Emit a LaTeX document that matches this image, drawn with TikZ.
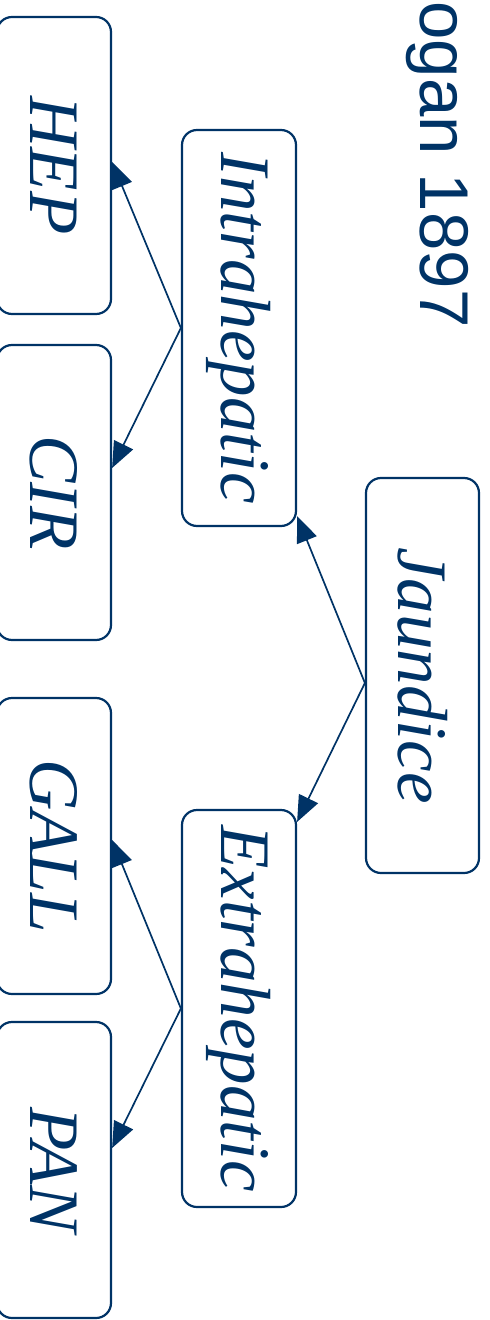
\documentclass[tikz,border=0pt]{standalone}
\usepackage{fontspec}
\setmainfont{Liberation Serif}
\newfontfamily\titlefont{Liberation Sans}
\usetikzlibrary{arrows.meta,calc}
\definecolor{navy}{RGB}{0,51,102}
\begin{document}
\begin{tikzpicture}[x=0.5pt,y=-0.5pt,
  box/.style={draw=navy, line width=1.1pt, rounded corners=7.5pt, inner sep=0pt,
    text=navy, font=\fontsize{35.5}{40}\selectfont\itshape, minimum width=57pt},
  link/.style={draw=navy, line width=0.85pt, -{Triangle[length=13pt,width=10.5pt]}},
  heading/.style={text=navy, font=\titlefont\fontsize{34.5}{40}\selectfont, inner sep=0pt}]
\useasboundingbox (0,0) rectangle (490,1320);

% title, running down the right side
\node[heading, rotate=-90, anchor=base east] (title) at (420,328) {Hogan 1897};

% root
\node[box, minimum width=56.5pt, minimum height=197.5pt] (jaun) at (422.5,675.5) {\rotatebox{-90}{Jaundice}};

% second level
\node[box, minimum height=198pt] (intra) at (239,328) {\rotatebox{-90}{Intrahepatic}};
\node[box, minimum height=198.5pt] (extra) at (239,1008.5) {\rotatebox{-90}{Extrahepatic}};

% leaves
\node[box, minimum height=148.5pt] (hep) at (54,165.5) {\rotatebox{-90}{HEP}};
\node[box, minimum height=147.5pt] (cir) at (54,492.5) {\rotatebox{-90}{CIR}};
\node[box, minimum height=148pt] (gall) at (54,846) {\rotatebox{-90}{GALL}};
\node[box, minimum height=148pt] (pan) at (54,1170) {\rotatebox{-90}{PAN}};

% connectors
\draw[link] ($(jaun.west)+(0,7.5)$) -- ($(intra.south east)+(0,-11)$);
\draw[link] ($(jaun.west)+(0,7.5)$) -- ($(extra.north east)+(0,13)$);
\draw[link] (intra.west) -- ($(hep.east)+(0,-3.5)$);
\draw[link] (intra.west) -- ($(cir.east)+(0,-24.5)$);
\draw[link] (extra.west) -- ($(gall.east)+(0,-6)$);
\draw[link] (extra.west) -- ($(pan.east)+(0,-22)$);
\end{tikzpicture}
\end{document}
